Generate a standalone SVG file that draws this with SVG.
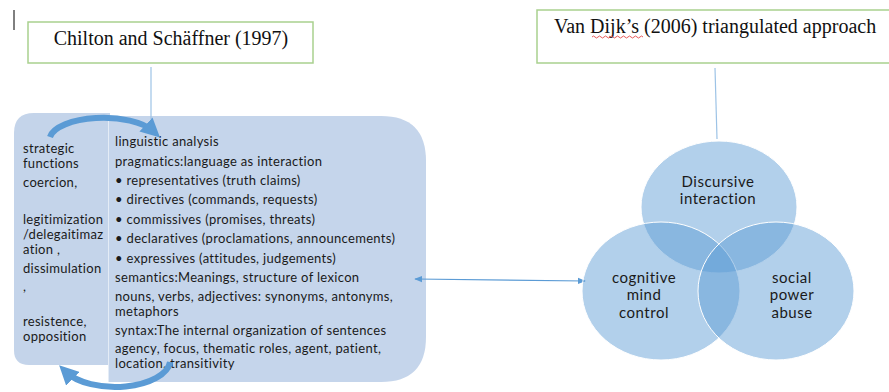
<svg xmlns="http://www.w3.org/2000/svg" width="889" height="392" viewBox="0 0 889 392">
<defs>
<style>
.box{fill:#ffffff;stroke:#a9d18e;stroke-width:1.5}
.ttl{font-family:"Liberation Serif",serif;font-size:20px;fill:#111}
.pt{font-family:Lato,"Open Sans",sans-serif;font-size:13px;letter-spacing:0.33px;fill:#1a1a1a}
.lt{font-family:Lato,"Open Sans",sans-serif;font-size:13px;letter-spacing:0.3px;fill:#1a1a1a}
.ct{font-family:Lato,"Open Sans",sans-serif;font-size:15px;letter-spacing:0.5px;fill:#1a1a1a;text-anchor:middle}
.circ{fill:#5b9bd5;fill-opacity:0.47;stroke:#ffffff;stroke-width:1}
.conn{stroke:#9dc3e6;stroke-width:1.2;fill:none}
.arc{stroke:#5b9bd5;stroke-width:6;fill:none}
.dbl{stroke:#5b9bd5;stroke-width:1.2;fill:none}
</style>
<marker id="ah" viewBox="0 0 10 10" refX="5" refY="5" markerWidth="3.2" markerHeight="3.2" orient="auto" markerUnits="strokeWidth">
<path d="M0,0 L10,5 L0,10 z" fill="#5b9bd5"/>
</marker>
<marker id="sa" viewBox="0 0 10 10" refX="9" refY="5" markerWidth="8" markerHeight="8" orient="auto-start-reverse" markerUnits="userSpaceOnUse">
<path d="M0,1 L10,5 L0,9 z" fill="#5b9bd5"/>
</marker>
</defs>

<line x1="14" y1="10" x2="14" y2="30" stroke="#000" stroke-width="1"/>

<g id="chilton">
<rect class="box" x="28" y="22" width="285" height="41"/>
<text class="ttl" x="171" y="45" text-anchor="middle">Chilton and Schäffner (1997)</text>
</g>

<g id="vandijk">
<rect class="box" x="537" y="10" width="360" height="53"/>
<text class="ttl" x="554" y="33">Van Dijk’s (2006) triangulated approach</text>
<path d="M592,37 q1.5,-2 3,0 t3,0 t3,0 t3,0 t3,0 t3,0 t3,0 t3,0 t3,0 t3,0 t3,0 t3,0 t3,0 t3,0 t3,0 t3,0 t3,0" stroke="#e03030" stroke-width="0.8" fill="none"/>
</g>

<g id="functions">
<path d="M34,113 H110 V365 H29 Q14,365 14,350 V133 Q14,113 34,113 Z" fill="#c4d4ea"/>
<text class="lt"><tspan x="23" y="153">strategic</tspan><tspan x="23" y="168">functions</tspan><tspan x="23" y="187">coercion,</tspan><tspan x="23" y="224">legitimization</tspan><tspan x="23" y="239">/delegaitimaz</tspan><tspan x="23" y="254">ation ,</tspan><tspan x="23" y="272.5">dissimulation</tspan><tspan x="23" y="291">,</tspan><tspan x="23" y="326">resistence,</tspan><tspan x="23" y="341">opposition</tspan></text>
</g>

<g id="analysis">
<path d="M108,116 H381 Q426,116 426,161 V337 Q426,382 381,382 H108 Z" fill="#c5d5eb"/>
<line x1="108.5" y1="116" x2="108.5" y2="382" stroke="#e4ecf6" stroke-width="1"/>
<text class="pt"><tspan x="115" y="146">linguistic analysis</tspan><tspan x="115" y="165.5">pragmatics:language as interaction</tspan><tspan x="115" y="185">• representatives (truth claims)</tspan><tspan x="115" y="204">• directives (commands, requests)</tspan><tspan x="115" y="223.5">• commissives (promises, threats)</tspan><tspan x="115" y="243">• declaratives (proclamations, announcements)</tspan><tspan x="115" y="262.5">• expressives (attitudes, judgements)</tspan><tspan x="115" y="281.5">semantics:Meanings, structure of lexicon</tspan><tspan x="115" y="300.5">nouns, verbs, adjectives: synonyms, antonyms,</tspan><tspan x="115" y="315.5">metaphors</tspan><tspan x="115" y="334.5">syntax:The internal organization of sentences</tspan><tspan x="115" y="353">agency, focus, thematic roles, agent, patient,</tspan><tspan x="115" y="368">location, transitivity</tspan></text>
</g>

<g id="connectors">
<line class="conn" x1="151" y1="67" x2="151" y2="126"/>
<line class="conn" x1="715" y1="68" x2="717" y2="139"/>
<line class="dbl" x1="415" y1="279" x2="585" y2="281" marker-start="url(#sa)" marker-end="url(#sa)"/>
<path class="arc" d="M50,137 A54,22 0 0 1 153,131" marker-end="url(#ah)"/>
<path class="arc" d="M170,362 A55,27 0 0 1 66,372" marker-end="url(#ah)"/>
</g>

<g id="venn">
<ellipse class="circ" cx="719" cy="207" rx="78" ry="66"/>
<ellipse class="circ" cx="661" cy="291" rx="79" ry="69"/>
<ellipse class="circ" cx="776" cy="291" rx="78" ry="69"/>
</g>
<g id="discursive"><text class="ct"><tspan x="718" y="187">Discursive</tspan><tspan x="718" y="204.3">interaction</tspan></text></g>
<g id="cognitive"><text class="ct"><tspan x="644" y="283">cognitive</tspan><tspan x="644" y="300.3">mind</tspan><tspan x="644" y="317.6">control</tspan></text></g>
<g id="social"><text class="ct"><tspan x="792" y="283">social</tspan><tspan x="792" y="300.3">power</tspan><tspan x="792" y="317.6">abuse</tspan></text></g>
</svg>
